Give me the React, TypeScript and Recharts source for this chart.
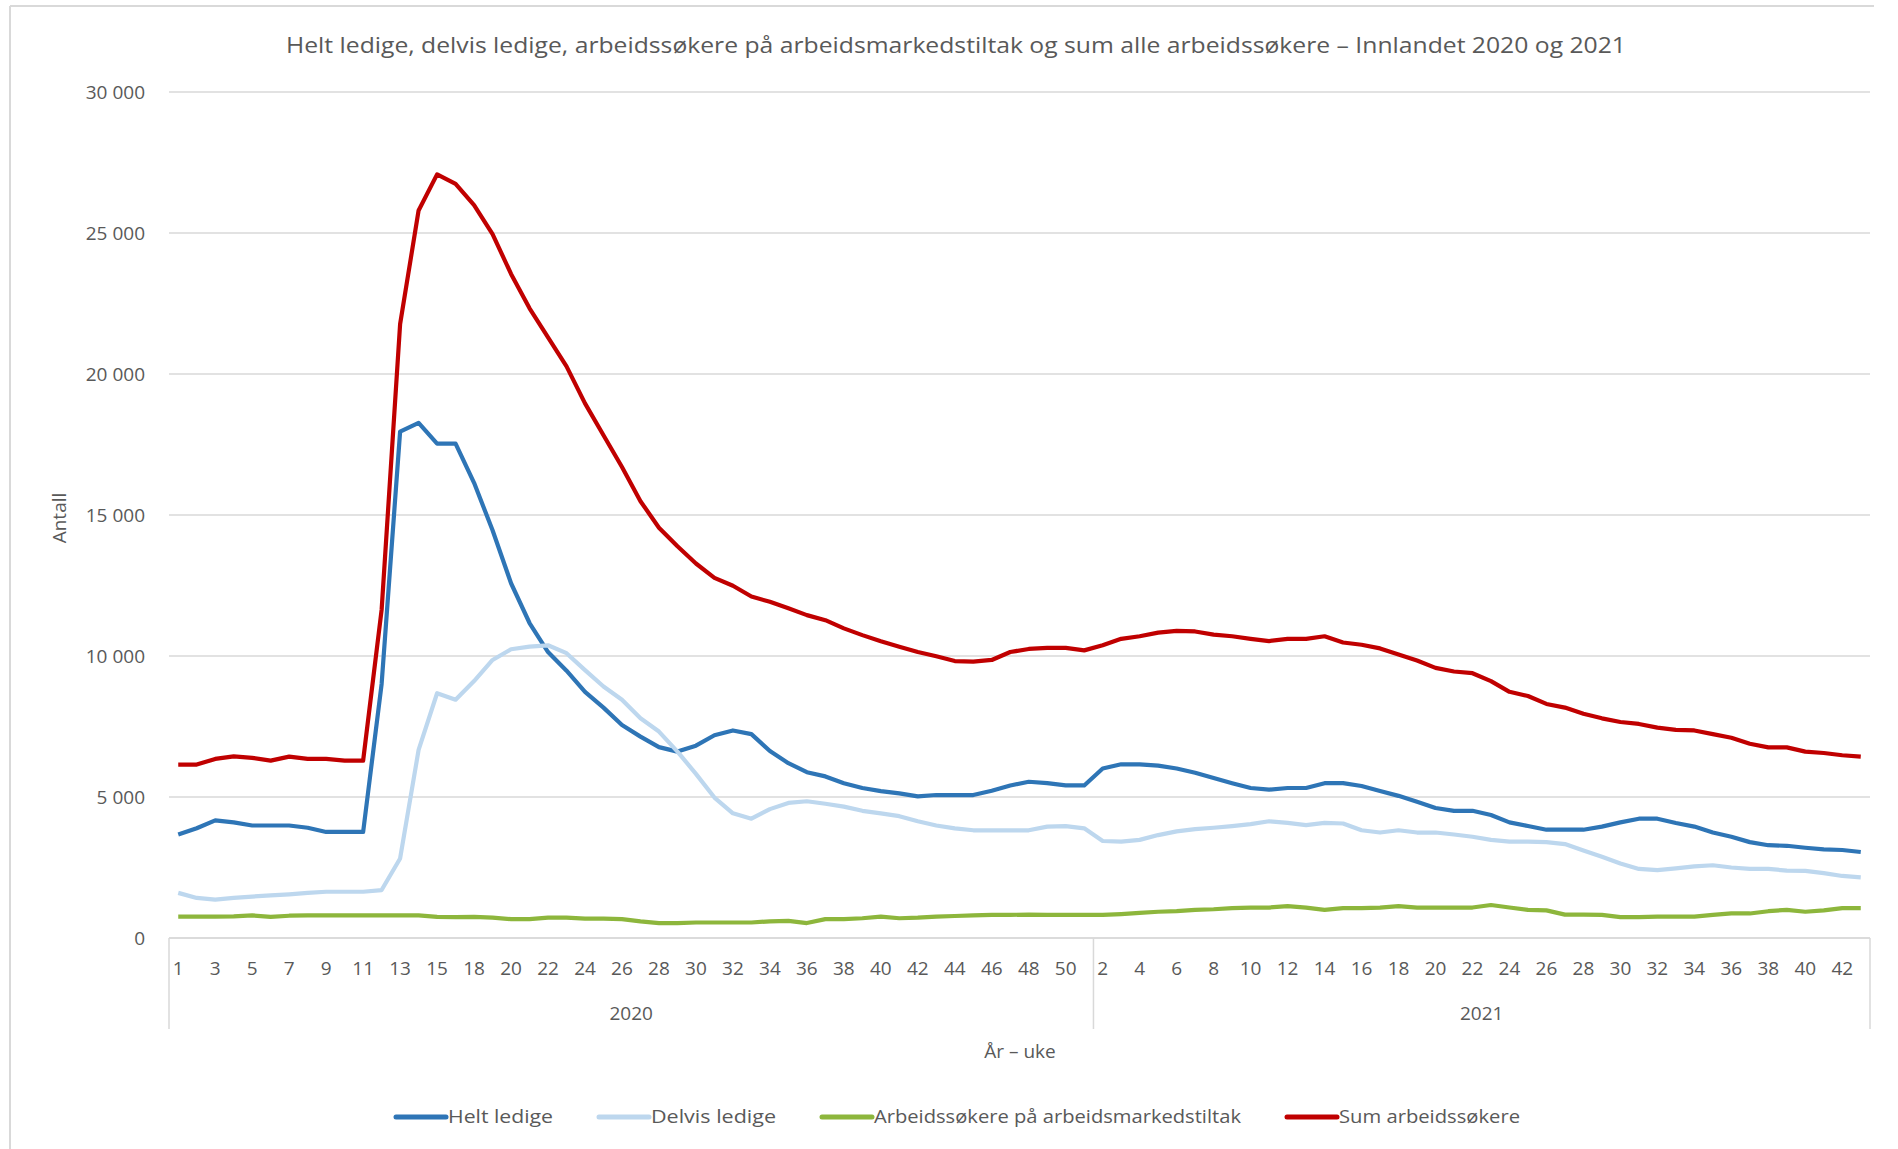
import React from 'react';
import { LineChart, Line, XAxis, YAxis, CartesianGrid } from 'recharts';

const weeks2020 = [
  1, 2, 3, 4, 5, 6, 7, 8, 9, 10, 11, 12, 13, 14, 15, 17, 18, 19, 20, 21, 22, 23, 24, 25, 26,
  27, 28, 29, 30, 31, 32, 33, 34, 35, 36, 37, 38, 39, 40, 41, 42, 43, 44, 45, 46, 47, 48, 49, 50, 51,
];
const weeks2021 = [
  2, 3, 4, 5, 6, 7, 8, 9, 10, 11, 12, 13, 14, 15, 16, 17, 18, 19, 20, 21, 22,
  23, 24, 25, 26, 27, 28, 29, 30, 31, 32, 33, 34, 35, 36, 37, 38, 39, 40, 41, 42, 43,
];

const heltLedige = [
  3670, 3890, 4170, 4100, 3990, 3990, 3990, 3910, 3760, 3760, 3760, 9010, 17960, 18270, 17530, 17530, 16140, 14460, 12580, 11170, 10140, 9480, 8730,
  8170, 7550, 7140, 6770, 6610, 6820, 7190, 7360, 7230, 6630, 6200, 5880, 5730, 5490, 5320, 5210, 5130, 5020, 5070, 5070, 5070, 5220, 5410, 5540,
  5490, 5410, 5410,
  6010, 6160, 6160, 6110, 6010, 5860, 5670, 5490, 5320, 5260, 5320, 5320, 5490, 5490, 5390, 5210, 5040, 4830, 4610, 4510,
  4510, 4360, 4100, 3970, 3840, 3840, 3840, 3950, 4100, 4230, 4230, 4080, 3950, 3740, 3590, 3400, 3290, 3270, 3200, 3140, 3120, 3050,
];
const delvisLedige = [
  1600, 1420, 1360, 1420, 1470, 1510, 1550, 1600, 1640, 1640, 1640, 1700, 2820, 6670, 8680, 8450, 9110, 9860, 10240, 10330, 10380, 10100, 9500,
  8920, 8450, 7790, 7320, 6610, 5820, 4980, 4420, 4230, 4570, 4790, 4850, 4760, 4660, 4510, 4420, 4320, 4140, 3990, 3890, 3820, 3820, 3820, 3820,
  3950, 3970, 3890,
  3440, 3420, 3480, 3650, 3780, 3860, 3910, 3970, 4040, 4140, 4080, 4000, 4080, 4060, 3820, 3740, 3820, 3740, 3740, 3670,
  3590, 3480, 3420, 3420, 3400, 3330, 3100, 2880, 2640, 2450, 2410, 2470, 2540, 2580, 2500, 2450, 2450, 2390, 2380, 2300, 2200, 2150,
];
const tiltak = [
  760, 760, 760, 770, 800, 750, 790, 800, 800, 800, 800, 800, 800, 800, 750, 740, 750, 720, 670, 670, 720, 720, 690,
  690, 670, 590, 530, 530, 550, 550, 550, 550, 590, 610, 530, 670, 670, 700, 760, 700, 720, 760, 780, 800, 820, 820, 830,
  820, 820, 820,
  820, 850, 890, 930, 950, 1000, 1020, 1060, 1080, 1080, 1130, 1080, 1000, 1060, 1060, 1080, 1130, 1080, 1080, 1080,
  1080, 1170, 1080, 1000, 980, 830, 830, 820, 740, 740, 760, 760, 760, 820, 870, 870, 950, 1000, 930, 980, 1060, 1060,
];
const sumArbeidssokere = [
  6150, 6150, 6350, 6440, 6390, 6290, 6430, 6350, 6350, 6290, 6290, 11640, 21770, 25800, 27080, 26740, 25990, 24960, 23550, 22330, 21300, 20270, 18960,
  17830, 16700, 15490, 14550, 13890, 13280, 12770, 12490, 12110, 11920, 11690, 11450, 11270, 10980, 10740, 10520, 10330, 10140, 9990, 9820, 9800, 9860, 10140, 10250,
  10290, 10290, 10200,
  10380, 10610, 10700, 10830, 10890, 10870, 10760, 10700, 10610, 10530, 10610, 10610, 10700, 10480, 10400, 10270, 10050, 9840, 9580, 9450,
  9390, 9110, 8730, 8580, 8300, 8170, 7950, 7790, 7660, 7590, 7460, 7380, 7360, 7230, 7100, 6890, 6760, 6760, 6610, 6560, 6480, 6430,
];

const yTicks = [0, 5000, 10000, 15000, 20000, 25000, 30000];

const series = [
  { key: 'helt', name: 'Helt ledige', color: '#2E75B6', textW: 105 },
  { key: 'delvis', name: 'Delvis ledige', color: '#BDD7EE', textW: 125 },
  { key: 'tiltak', name: 'Arbeidssøkere på arbeidsmarkedstiltak', color: '#8DB63C', textW: 367 },
  { key: 'sum', name: 'Sum arbeidssøkere', color: '#C00000', textW: 181 },
];

const years = [...weeks2020.map(() => '2020'), ...weeks2021.map(() => '2021')];
const weeks = [...weeks2020, ...weeks2021];

const data = weeks.map((w, i) => ({
  week: String(w),
  year: years[i],
  helt: heltLedige[i],
  delvis: delvisLedige[i],
  tiltak: tiltak[i],
  sum: sumArbeidssokere[i],
}));

const W = 1898;
const H = 1149;
const PLOT_L = 169;
const PLOT_R = 1870;
const PLOT_T = 92;
const PLOT_B = 938;
const BW = (PLOT_R - PLOT_L) / data.length;
const FONT = '"Open Sans", "Liberation Sans", sans-serif';
const GREY = '#595959';
const LINE_GREY = '#D9D9D9';

const fmt = (v: number) => String(v).replace(/\B(?=(\d{3})+(?!\d))/g, ' ');

const YearTick = (props: any) => {
  const { x, index } = props;
  const first = index === 0 || years[index] !== years[index - 1];
  const last = index === data.length - 1;
  const count = years.filter((y) => y === years[index]).length;
  return (
    <g>
      {first && (
        <>
          <line x1={x - BW / 2} x2={x - BW / 2} y1={PLOT_B} y2={1029} stroke={LINE_GREY} strokeWidth={1.5} />
          <text x={x - BW / 2 + (count * BW) / 2} y={1020} textAnchor="middle" fill={GREY} fontSize={19} fontFamily={FONT}>
            {years[index]}
          </text>
        </>
      )}
      {last && <line x1={x + BW / 2} x2={x + BW / 2} y1={PLOT_B} y2={1029} stroke={LINE_GREY} strokeWidth={1.5} />}
    </g>
  );
};

export default function App() {
  let lx = 394;
  const legendItems = series.map((s) => {
    const x0 = lx;
    lx += 54 + s.textW + 44;
    return (
      <g key={s.key}>
        <line x1={x0 + 2} x2={x0 + 52} y1={1117} y2={1117} stroke={s.color} strokeWidth={5} strokeLinecap="round" />
        <text x={x0 + 54} y={1123} fill={GREY} fontSize={18} fontFamily={FONT} textLength={s.textW} lengthAdjust="spacingAndGlyphs">
          {s.name}
        </text>
      </g>
    );
  });

  return (
    <div style={{ position: 'absolute', left: 0, top: 0, width: W, height: H, background: '#fff' }}>
      <LineChart
        width={W}
        height={H}
        data={data}
        margin={{ top: PLOT_T, right: W - PLOT_R, bottom: H - PLOT_B - 90, left: 0 }}
      >
        <CartesianGrid vertical={false} stroke={LINE_GREY} strokeWidth={1.5} />
        <XAxis
          dataKey="week"
          interval={1}
          height={45}
          tickLine={false}
          tickSize={0}
          tickMargin={24}
          axisLine={{ stroke: LINE_GREY, strokeWidth: 1.5 }}
          padding={{ left: BW / 2, right: BW / 2 }}
          tick={{ fill: GREY, fontSize: 19, fontFamily: FONT }}
        />
        <XAxis
          xAxisId="year"
          dataKey="year"
          interval={0}
          height={45}
          tickLine={false}
          axisLine={false}
          padding={{ left: BW / 2, right: BW / 2 }}
          tick={(p: any) => <YearTick {...p} />}
        />
        <YAxis
          width={PLOT_L}
          domain={[0, 30000]}
          ticks={yTicks}
          tickFormatter={fmt}
          axisLine={false}
          tickLine={false}
          tickSize={0}
          tickMargin={24}
          tick={{ fill: GREY, fontSize: 19, fontFamily: FONT }}
        />
        {series.map((s) => (
          <Line
            key={s.key}
            type="linear"
            dataKey={s.key}
            name={s.name}
            stroke={s.color}
            strokeWidth={4.2}
            dot={false}
            activeDot={false}
            strokeLinejoin="round"
            isAnimationActive={false}
          />
        ))}
      </LineChart>
      <svg width={W} height={H} style={{ position: 'absolute', left: 0, top: 0, pointerEvents: 'none' }}>
        <line x1={10} x2={1874} y1={6} y2={6} stroke={LINE_GREY} strokeWidth={2} />
        <line x1={10} x2={10} y1={6} y2={H} stroke={LINE_GREY} strokeWidth={2} />
        <text x={956} y={53} textAnchor="middle" fill={GREY} fontSize={22} fontFamily={FONT} textLength={1340} lengthAdjust="spacingAndGlyphs">
          Helt ledige, delvis ledige, arbeidssøkere på arbeidsmarkedstiltak og sum alle arbeidssøkere – Innlandet 2020 og 2021
        </text>
        <text x={0} y={0} transform="translate(66 518) rotate(-90)" textAnchor="middle" fill={GREY} fontSize={19} fontFamily={FONT}>
          Antall
        </text>
        <text x={1020} y={1058} textAnchor="middle" fill={GREY} fontSize={19} fontFamily={FONT}>
          År – uke
        </text>
        {legendItems}
      </svg>
    </div>
  );
}
